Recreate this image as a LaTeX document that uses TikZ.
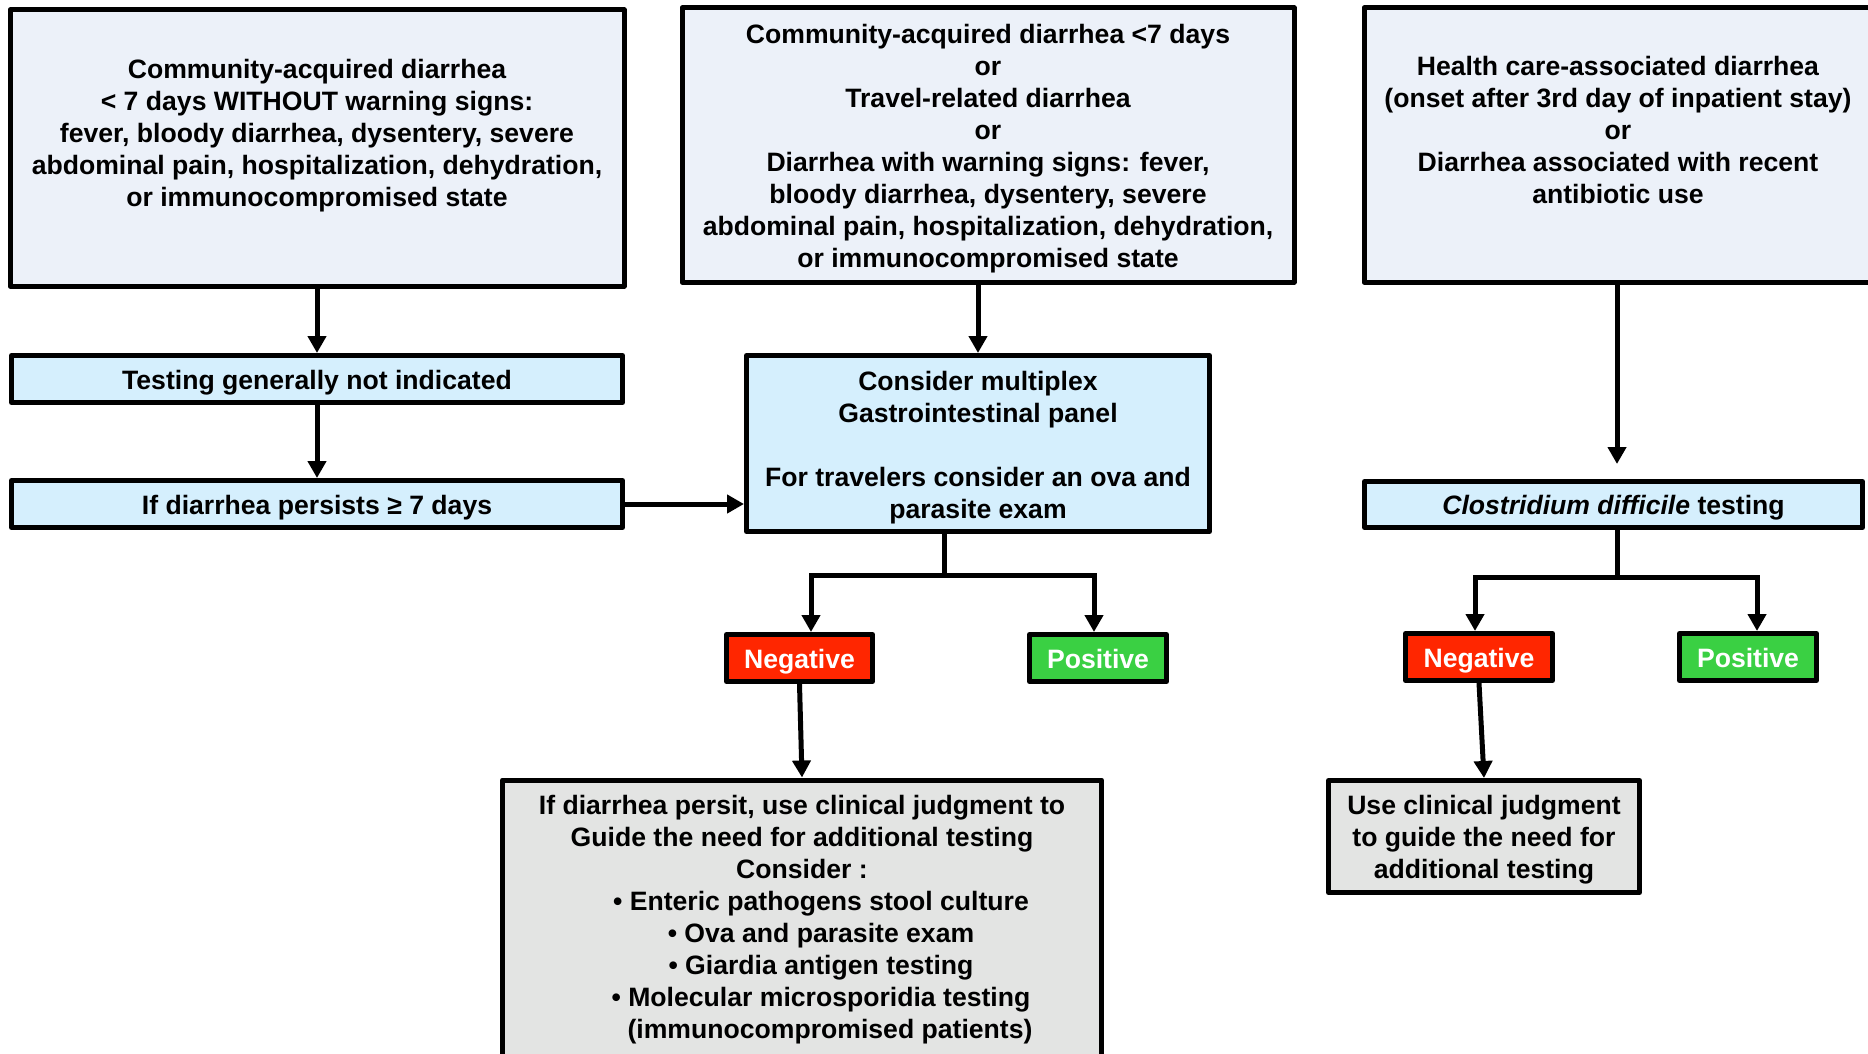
\documentclass[tikz,border=0pt]{standalone}
\usepackage{fontspec}
\setmainfont{Liberation Sans}
\usetikzlibrary{arrows.meta}
\definecolor{topfill}{RGB}{236,241,249}
\definecolor{bluefill}{RGB}{213,239,253}
\definecolor{negred}{RGB}{255,38,0}
\definecolor{posgreen}{RGB}{58,208,67}
\definecolor{grayfill}{RGB}{227,228,227}
\begin{document}
\begin{tikzpicture}[x=0.5pt,y=-0.5pt,
  txt/.style={align=center,inner sep=0pt,font=\fontsize{13.3pt}{16pt}\selectfont\bfseries},
  box/.style={txt,draw=black,line width=2.5pt,line join=round,
    execute at begin node={\rule[-3.3pt]{0pt}{16.6pt}}},
  topbox/.style={box,fill=topfill},
  bluebox/.style={box,fill=bluefill},
  graybox/.style={box,fill=grayfill},
  negbox/.style={box,fill=negred,text=white,minimum height=23.5pt},
  posbox/.style={box,fill=posgreen,text=white,minimum height=23.5pt},
  conn/.style={line width=2.5pt,line join=miter},
  arr/.style={conn,-{Triangle[length=8.5pt,width=9pt]}}]
\useasboundingbox (0,0) rectangle (1868,1054);
\fill[white] (0,0) rectangle (1868,1054);

% top row
\node[topbox,minimum width=307pt,minimum height=138pt] (box1) at (317,148) {};
\node[txt] (box1t) at (317,149)
  {Community-acquired diarrhea\\ {<} 7 days WITHOUT warning signs:\\ fever, bloody diarrhea, dysentery, severe\\ abdominal pain, hospitalization, dehydration,\\ or immunocompromised state\\ ~};
\node[topbox,minimum width=306pt,minimum height=137pt] (box2) at (988,145) {};
\node[txt] (box2t) at (988,148.6)
  {Community-acquired diarrhea {<}7 days\\ or\\ Travel-related diarrhea\\ or\\ Diarrhea with warning signs: fever,\\ bloody diarrhea, dysentery, severe\\ abdominal pain, hospitalization, dehydration,\\ or immunocompromised state};
\node[topbox,minimum width=254pt,minimum height=137pt] (box3) at (1618,145) {};
\node[txt] (box3t) at (1618,145.8)
  {Health care-associated diarrhea\\ (onset after 3rd day of inpatient stay)\\ or\\ Diarrhea associated with recent\\ antibiotic use\\ ~};

% second level
\node[bluebox,minimum width=305.5pt,minimum height=23.5pt] (testing) at (317,379)
  {Testing generally not indicated};
\node[bluebox,minimum width=305.5pt,minimum height=23.5pt] (persists) at (317,504)
  {If diarrhea persists ≥ 7 days};
\node[bluebox,minimum width=231.5pt,minimum height=88pt] (consider) at (978,443.5) {};
\node[txt] (considert) at (978,448)
  {Consider multiplex\\ Gastrointestinal panel\\[16pt] For travelers consider an ova and\\ parasite exam};
\node[bluebox,minimum width=249pt,minimum height=23pt] (clos) at (1613.5,504.5)
  {\textit{Clostridium difficile} testing};

% results
\node[negbox,minimum width=73pt] (neg1) at (799.5,658) {Negative};
\node[posbox,minimum width=68.5pt] (pos1) at (1098,658) {Positive};
\node[negbox,minimum width=73.5pt] (neg2) at (1479,657) {Negative};
\node[posbox,minimum width=68.5pt] (pos2) at (1748,657) {Positive};

% bottom
\node[graybox,minimum width=299.5pt,minimum height=140pt] (bottom1) at (802,920) {};
\node[txt] (bottom1t) at (802,920)
  {If diarrhea persit, use clinical judgment to\\ Guide the need for additional testing\\ Consider :\\
   \hspace*{19pt}• Enteric pathogens stool culture\\
   \hspace*{19pt}• Ova and parasite exam\\
   \hspace*{19pt}• Giardia antigen testing\\
   \hspace*{19pt}• Molecular microsporidia testing\\
   \hspace*{28pt}(immunocompromised patients)};
\node[graybox,minimum width=155.5pt,minimum height=56pt] (bottom2) at (1484,836.5) {};
\node[txt] (bottom2t) at (1484,840)
  {Use clinical judgment\\ to guide the need for\\ additional testing};

% coordinates
\coordinate (cj1) at (944,575);
\coordinate (b1L) at (811,575);
\coordinate (b1R) at (1094,575);
\coordinate (cj2) at (1617,577);
\coordinate (b2L) at (1475,577);
\coordinate (b2R) at (1757,577);
\coordinate (c3end) at (1617,464);

% connectors
\draw[arr] (box1.south) -- (testing.north);
\draw[arr] (testing.south) -- (persists.north);
\draw[arr] (persists.east) -- (persists.east -| consider.west);
\draw[arr] (consider.north |- box2.south) -- (consider.north);
\draw[conn] (consider.south -| cj1) -- (cj1);
\draw[arr] (cj1) -- (b1L) -- (b1L |- neg1.north);
\draw[arr] (cj1) -- (b1R) -- (b1R |- pos1.north);
\draw[arr] (box3.south -| c3end) -- (c3end);
\draw[conn] (clos.south -| cj2) -- (cj2);
\draw[arr] (cj2) -- (b2L) -- (b2L |- neg2.north);
\draw[arr] (cj2) -- (b2R) -- (b2R |- pos2.north);
\draw[arr] (neg1.south) -- (bottom1.north);
\draw[arr] (neg2.south) -- (bottom2.north);
\end{tikzpicture}
\end{document}
